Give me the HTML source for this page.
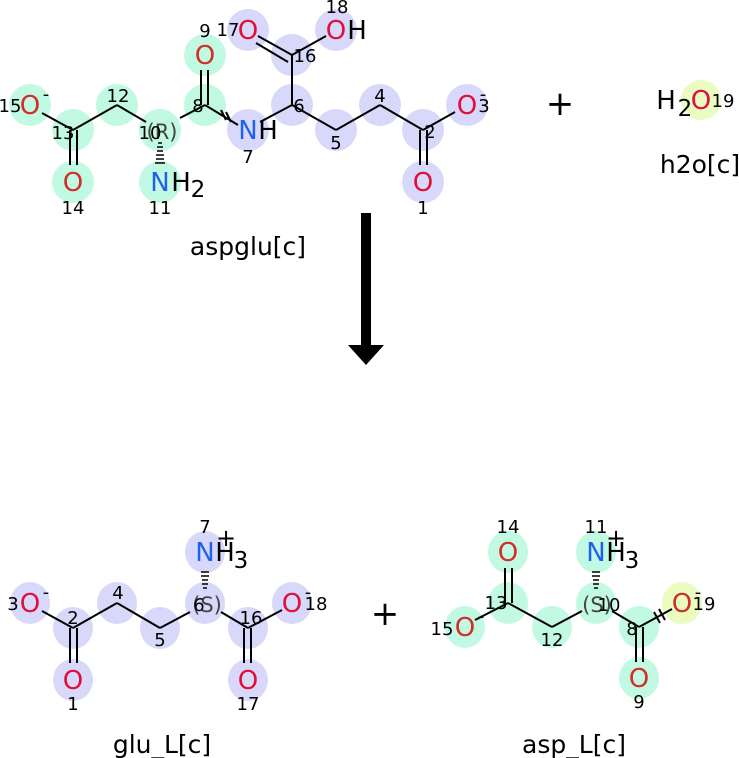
<!DOCTYPE html>
<html><head><meta charset="utf-8"><style>
html,body{margin:0;padding:0;background:#fff}
svg{display:block}
text{font-family:"DejaVu Sans","Liberation Sans",sans-serif}
</style></head><body>
<svg width="739" height="758" viewBox="0 0 739 758" xmlns="http://www.w3.org/2000/svg">
<g>
<g fill="#c2f9e3">
<circle cx="30" cy="105" r="21"/><circle cx="73" cy="130" r="21"/><circle cx="73" cy="182" r="21"/>
<circle cx="117" cy="105" r="21"/><circle cx="160" cy="130" r="21"/><circle cx="160" cy="182" r="21"/>
<circle cx="205" cy="105" r="21"/><circle cx="205" cy="55" r="21"/>
</g>
<g fill="#d8d8fa">
<circle cx="248" cy="130" r="21"/><circle cx="292" cy="105" r="21"/><circle cx="292" cy="55" r="21"/>
<circle cx="248" cy="30" r="21"/><circle cx="336" cy="30" r="21"/><circle cx="336" cy="130" r="21"/>
<circle cx="380" cy="105" r="21"/><circle cx="423" cy="130" r="21"/><circle cx="423" cy="182" r="21"/>
<circle cx="467" cy="105" r="21"/>
</g>
<circle cx="701" cy="100" r="20" fill="#eafcc0"/>
<g fill="#d8d8fa">
<ellipse cx="30" cy="603" rx="20" ry="21"/><ellipse cx="73" cy="628" rx="20" ry="21"/><ellipse cx="73" cy="680" rx="20" ry="21"/>
<ellipse cx="117" cy="603" rx="20" ry="21"/><ellipse cx="160" cy="628" rx="20" ry="21"/><ellipse cx="205" cy="603" rx="20" ry="21"/>
<ellipse cx="205" cy="552" rx="20" ry="21"/><ellipse cx="248" cy="628" rx="20" ry="21"/><ellipse cx="248" cy="680" rx="20" ry="21"/>
<ellipse cx="292" cy="603" rx="20" ry="21"/>
</g>
<g fill="#c2f9e3">
<ellipse cx="465" cy="627" rx="20" ry="21"/><ellipse cx="508" cy="603" rx="20" ry="21"/><ellipse cx="508" cy="552" rx="20" ry="21"/>
<ellipse cx="552" cy="627" rx="20" ry="21"/><ellipse cx="596" cy="603" rx="20" ry="21"/><ellipse cx="596" cy="552" rx="20" ry="21"/>
<ellipse cx="639" cy="627" rx="20" ry="21"/><ellipse cx="639" cy="678" rx="20" ry="21"/>
</g>
<ellipse cx="682" cy="603" rx="20" ry="21" fill="#eafcc0"/>
</g>
<g stroke="#000" stroke-width="2" fill="none">
<line x1="42" y1="113" x2="73" y2="130"/><line x1="70" y1="130" x2="70" y2="165"/><line x1="77" y1="130" x2="77" y2="165"/>
<line x1="73" y1="130" x2="117" y2="105"/><line x1="117" y1="105" x2="146" y2="122"/>
<line x1="180" y1="118" x2="205" y2="105"/><line x1="201" y1="105" x2="201" y2="70"/><line x1="208" y1="105" x2="208" y2="70"/>
<line x1="205" y1="105" x2="238" y2="125"/><line x1="221" y1="110" x2="226" y2="120"/><line x1="226" y1="112" x2="231" y2="122"/>
<line x1="260" y1="122" x2="292" y2="105"/><line x1="292" y1="105" x2="292" y2="55"/>
<line x1="292" y1="55" x2="258" y2="36"/><line x1="288" y1="62" x2="256" y2="43"/><line x1="292" y1="55" x2="326" y2="36"/>
<line x1="292" y1="105" x2="336" y2="130"/><line x1="336" y1="130" x2="380" y2="105"/><line x1="380" y1="105" x2="423" y2="130"/>
<line x1="420" y1="130" x2="420" y2="165"/><line x1="427" y1="130" x2="427" y2="165"/><line x1="423" y1="130" x2="455" y2="112"/>
<line x1="42" y1="611" x2="73" y2="628"/><line x1="70" y1="628" x2="70" y2="663"/><line x1="77" y1="628" x2="77" y2="663"/>
<line x1="73" y1="628" x2="117" y2="603"/><line x1="117" y1="603" x2="160" y2="628"/><line x1="160" y1="628" x2="190" y2="612"/>
<line x1="221" y1="612" x2="248" y2="628"/><line x1="244" y1="628" x2="244" y2="663"/><line x1="251" y1="628" x2="251" y2="663"/>
<line x1="248" y1="628" x2="282" y2="610"/>
<line x1="475" y1="620" x2="508" y2="603"/><line x1="505" y1="603" x2="505" y2="568"/><line x1="512" y1="603" x2="512" y2="568"/>
<line x1="508" y1="603" x2="552" y2="627"/><line x1="552" y1="627" x2="582" y2="611"/>
<line x1="612" y1="611" x2="639" y2="627"/><line x1="636" y1="627" x2="636" y2="662"/><line x1="643" y1="627" x2="643" y2="662"/>
<line x1="639" y1="627" x2="672" y2="609"/><line x1="654" y1="612" x2="660" y2="623"/><line x1="659" y1="609" x2="665" y2="620"/>
</g>
<g stroke="#000" stroke-width="1.5">
<line x1="158" y1="143" x2="162" y2="143"/><line x1="157" y1="147" x2="163" y2="147"/><line x1="157" y1="151" x2="163" y2="151"/><line x1="156" y1="155" x2="164" y2="155"/><line x1="156" y1="159" x2="164" y2="159"/><line x1="155" y1="163" x2="165" y2="163"/>
<line x1="203" y1="588" x2="207" y2="588"/><line x1="202" y1="584" x2="208" y2="584"/><line x1="202" y1="580" x2="208" y2="580"/><line x1="201" y1="576" x2="209" y2="576"/><line x1="201" y1="572" x2="209" y2="572"/>
<line x1="594" y1="588" x2="598" y2="588"/><line x1="593" y1="584" x2="599" y2="584"/><line x1="593" y1="580" x2="599" y2="580"/><line x1="592" y1="576" x2="600" y2="576"/><line x1="592" y1="572" x2="600" y2="572"/>
</g>
<rect x="361" y="213" width="10" height="133" fill="#000"/>
<polygon points="348,345 384,345 366,365" fill="#000"/>
<g font-size="26" text-anchor="middle">
<g fill="#d0302a">
<text x="30" y="114">O</text><text x="73" y="191">O</text><text x="205" y="64">O</text>
<text x="465" y="636">O</text><text x="508" y="561">O</text><text x="639" y="687">O</text><text x="682" y="612">O</text>
</g>
<g fill="#e0103a">
<text x="248" y="39">O</text><text x="336" y="39">O</text><text x="423" y="191">O</text><text x="467" y="114">O</text><text x="701" y="109">O</text>
<text x="30" y="612">O</text><text x="73" y="689">O</text><text x="248" y="689">O</text><text x="292" y="612">O</text>
</g>
<g fill="#2060f0">
<text x="160" y="191">N</text><text x="248" y="139">N</text><text x="205" y="561">N</text><text x="596" y="561">N</text>
</g>
<g fill="#000">
<text x="357" y="39">H</text><text x="268" y="139">H</text><text x="181" y="191">H</text><text x="666" y="109">H</text>
<text x="225" y="561">H</text><text x="616" y="561">H</text>
<text x="560" y="115" font-size="34">+</text><text x="385" y="625" font-size="34">+</text>
<text x="226" y="546" font-size="24">+</text><text x="616" y="546" font-size="24">+</text>
</g>
<g fill="#000" font-size="23">
<text x="198" y="197">2</text><text x="685" y="116">2</text><text x="241" y="568">3</text><text x="632" y="568">3</text>
</g>
<g fill="#444" font-size="21"><text x="162" y="139">(R)</text><text x="207" y="612">(S)</text><text x="597" y="612">(S)</text></g>
</g>
<g font-size="18" text-anchor="middle" fill="#000">
<text x="46" y="100">-</text><text x="46" y="598">-</text><text x="308" y="598">-</text><text x="481" y="622">-</text><text x="698" y="598">-</text><text x="483" y="100">-</text>
<text x="10" y="112">15</text><text x="63" y="139">13</text><text x="73" y="214">14</text><text x="118" y="102">12</text>
<text x="150" y="139">10</text><text x="160" y="214">11</text><text x="198" y="112">8</text><text x="205" y="37">9</text>
<text x="248" y="163">7</text><text x="299" y="112">6</text><text x="305" y="62">16</text><text x="228" y="36">17</text><text x="337" y="13">18</text>
<text x="336" y="149">5</text><text x="380" y="102">4</text><text x="430" y="138">2</text><text x="423" y="214">1</text><text x="484" y="112">3</text>
<text x="723" y="107">19</text>
<text x="13" y="610">3</text><text x="73" y="624">2</text><text x="73" y="710">1</text><text x="118" y="599">4</text><text x="160" y="646">5</text>
<text x="199" y="611">6</text><text x="205" y="533">7</text><text x="251" y="624">16</text><text x="248" y="710">17</text><text x="316" y="610">18</text>
<text x="442" y="635">15</text><text x="496" y="609">13</text><text x="508" y="533">14</text><text x="552" y="646">12</text>
<text x="609" y="611">10</text><text x="596" y="533">11</text><text x="632" y="635">8</text><text x="639" y="708">9</text><text x="704" y="610">19</text>
</g>
<g font-size="25" text-anchor="middle" fill="#000">
<text x="248" y="255">aspglu[c]</text><text x="700" y="173">h2o[c]</text>
<text x="162" y="753">glu_L[c]</text><text x="574" y="753">asp_L[c]</text>
</g>
</svg>
</body></html>
